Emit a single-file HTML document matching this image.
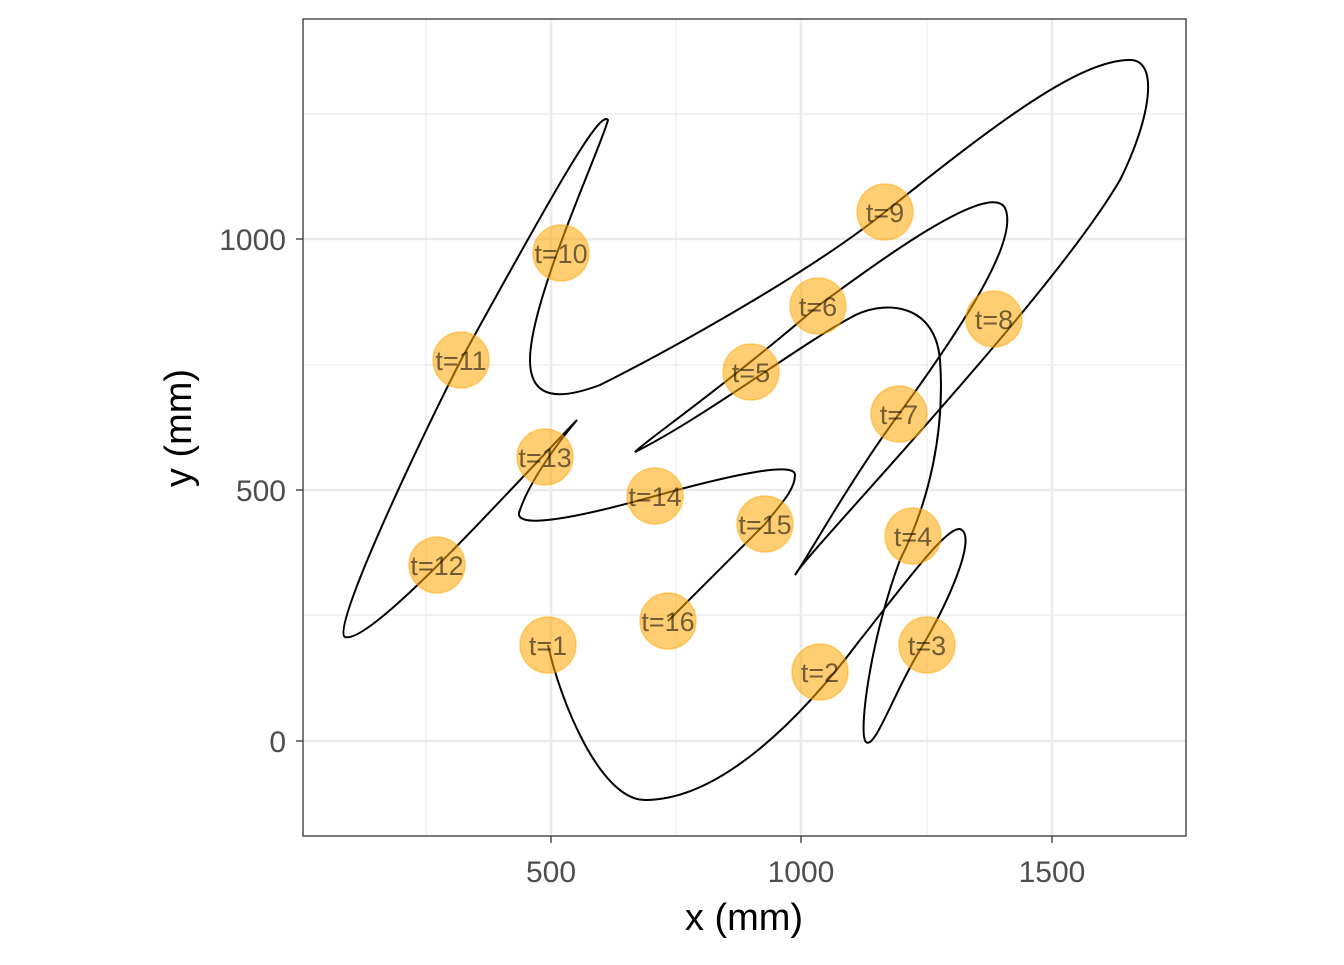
<!DOCTYPE html>
<html><head><style>body{margin:0;background:#fff}</style></head><body>
<svg width="1344" height="960" xmlns="http://www.w3.org/2000/svg" font-family="Liberation Sans, sans-serif">
<rect width="1344" height="960" fill="#fff"/>
<g stroke="#EBEBEB" stroke-width="1.2">
<line x1="426" y1="19" x2="426" y2="836"/><line x1="676" y1="19" x2="676" y2="836"/><line x1="927" y1="19" x2="927" y2="836"/>
<line x1="303" y1="114" x2="1186" y2="114"/><line x1="303" y1="365" x2="1186" y2="365"/><line x1="303" y1="615" x2="1186" y2="615"/>
</g>
<g stroke="#EBEBEB" stroke-width="2.6">
<line x1="551" y1="19" x2="551" y2="836"/><line x1="801" y1="19" x2="801" y2="836"/><line x1="1052" y1="19" x2="1052" y2="836"/>
<line x1="303" y1="239" x2="1186" y2="239"/><line x1="303" y1="490" x2="1186" y2="490"/><line x1="303" y1="741" x2="1186" y2="741"/>
</g>
<path fill="none" stroke="#000" stroke-width="2" d="M548,645 C560,700 600,800 645,800 C720,800 800,720 860,640 C900,590 950,520 962,530 C975,540 950,600 920,650 C895,690 875,750 866,742 C858,735 870,640 900,560 C930,500 945,430 940,360 C935,300 880,300 850,318 C800,345 700,420 635,452 C640,445 720,390 818,306 C880,260 990,180 1005,208 C1020,240 960,330 899,414 C850,480 800,570 795,575 C800,560 1050,300 1120,180 C1150,120 1160,60 1130,60 C1080,60 1000,120 885,212 C800,280 650,360 600,385 C560,400 530,400 530,360 C530,300 600,150 608,120 C600,110 560,180 461,360 C420,440 330,630 345,637 C370,645 500,500 577,420 C560,440 530,480 520,510 C510,530 570,520 655,496 C720,478 795,460 795,475 C795,490 780,505 765,524 L668,621"/>
<g fill="#FFA500" fill-opacity="0.55" stroke="#FFA500" stroke-opacity="0.5" stroke-width="1.5">
<circle cx="548" cy="645" r="28"/><circle cx="820" cy="672" r="28"/><circle cx="927" cy="645" r="28"/><circle cx="913" cy="536" r="28"/>
<circle cx="751" cy="372" r="28"/><circle cx="818" cy="306" r="28"/><circle cx="899" cy="414" r="28"/><circle cx="994" cy="319" r="28"/>
<circle cx="885" cy="212" r="28"/><circle cx="561" cy="253" r="28"/><circle cx="461" cy="360" r="28"/><circle cx="437" cy="565" r="28"/>
<circle cx="545" cy="457" r="28"/><circle cx="655" cy="496" r="28"/><circle cx="765" cy="524" r="28"/><circle cx="668" cy="621" r="28"/>
</g>
<g fill="#000" fill-opacity="0.55" font-size="27" text-anchor="middle">
<text x="548" y="655">t=1</text><text x="820" y="682">t=2</text><text x="927" y="655">t=3</text><text x="913" y="546">t=4</text>
<text x="751" y="382">t=5</text><text x="818" y="316">t=6</text><text x="899" y="424">t=7</text><text x="994" y="329">t=8</text>
<text x="885" y="222">t=9</text><text x="561" y="263">t=10</text><text x="461" y="370">t=11</text><text x="437" y="575">t=12</text>
<text x="545" y="467">t=13</text><text x="655" y="506">t=14</text><text x="765" y="534">t=15</text><text x="668" y="631">t=16</text>
</g>
<rect x="303" y="19" width="883" height="817" fill="none" stroke="#333" stroke-width="1.3"/>
<g stroke="#333" stroke-width="1.3">
<line x1="551" y1="836" x2="551" y2="843"/><line x1="801" y1="836" x2="801" y2="843"/><line x1="1052" y1="836" x2="1052" y2="843"/>
<line x1="296" y1="239" x2="303" y2="239"/><line x1="296" y1="490" x2="303" y2="490"/><line x1="296" y1="741" x2="303" y2="741"/>
</g>
<g fill="#4D4D4D" font-size="30">
<text x="551" y="882" text-anchor="middle">500</text><text x="801" y="882" text-anchor="middle">1000</text><text x="1052" y="882" text-anchor="middle">1500</text>
<text x="286" y="250" text-anchor="end">1000</text><text x="286" y="501" text-anchor="end">500</text><text x="286" y="752" text-anchor="end">0</text>
</g>
<text x="744" y="930" font-size="38" text-anchor="middle">x (mm)</text>
<text transform="translate(191,428) rotate(-90)" font-size="38" text-anchor="middle">y (mm)</text>
</svg>
</body></html>
